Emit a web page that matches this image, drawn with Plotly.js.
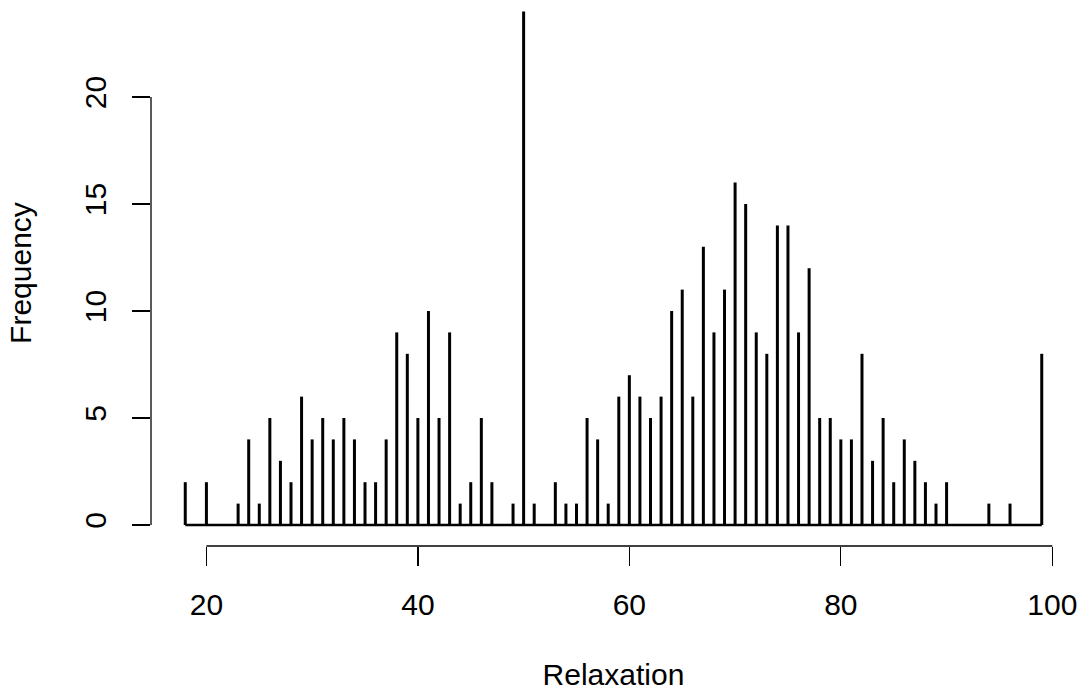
<!DOCTYPE html>
<html>
<head>
<meta charset="utf-8">
<script src="https://cdn.plot.ly/plotly-3.0.1.min.js"></script>
<style>html,body{margin:0;padding:0;background:#fff;}#chart{width:1082px;height:691px;}</style>
</head>
<body>
<div id="chart"></div>
<script>
// Relaxation scores and their frequencies
var relaxation = [18,20,23,24,25,26,27,28,29,30,31,32,33,34,35,36,37,38,39,40,41,42,43,44,45,46,47,49,50,51,53,54,55,56,57,58,59,60,61,62,63,64,65,66,67,68,69,70,71,72,73,74,75,76,77,78,79,80,81,82,83,84,85,86,87,88,89,90,94,96,99];
var frequency  = [2,2,1,4,1,5,3,2,6,4,5,4,5,4,2,2,4,9,8,5,10,5,9,1,2,5,2,1,24,1,2,1,1,5,4,1,6,7,6,5,6,10,11,6,13,9,11,16,15,9,8,14,14,9,12,5,5,4,4,8,3,5,2,4,3,2,1,2,1,1,8];
var xTicks = [20,40,60,80,100];
var yTicks = [0,5,10,15,20];

var hx = [], hy = [];
for (var i = 0; i < relaxation.length; i++) {
  hx.push(relaxation[i], relaxation[i], null);
  hy.push(0, frequency[i], null);
}
var xmin = Math.min.apply(null, relaxation), xmax = Math.max.apply(null, relaxation);

var font = {family: "Liberation Sans, Arial, sans-serif", size: 30, color: "#000"};

var traces = [
  {x: [xmin, xmax], y: [0, 0], mode: "lines", line: {color: "#000", width: 2.5}, hoverinfo: "skip", showlegend: false},
  {x: hx, y: hy, mode: "lines", line: {color: "#000", width: 3}, connectgaps: false, showlegend: false}
];

var layout = {
  width: 1082, height: 691,
  margin: {l: 151, r: 6, t: 0, b: 145},
  paper_bgcolor: "#fff", plot_bgcolor: "#fff",
  font: font,
  showlegend: false,
  xaxis: {
    range: [14.76, 102.24], tickvals: xTicks, ticktext: xTicks.map(String),
    ticks: "outside", ticklen: 19, tickwidth: 1.3, tickcolor: "#000",
    showline: false, showgrid: false, zeroline: false,
    tickfont: font, ticklabelstandoff: 13,
    title: {text: "Relaxation", font: font, standoff: 50},
    automargin: false
  },
  yaxis: {
    range: [-0.981, 24.533], tickvals: yTicks, ticktext: yTicks.map(String),
    ticks: "outside", ticklen: 18, tickwidth: 1.3, tickcolor: "#000",
    showline: false, showgrid: false, zeroline: false,
    tickfont: font, tickangle: -90, ticklabelstandoff: 14,
    title: {text: "Frequency", font: font, standoff: 38},
    automargin: false
  },
  shapes: [
    {type: "line", xref: "x", yref: "paper", x0: xTicks[0], x1: xTicks[xTicks.length-1], y0: 0, y1: 0, line: {color: "#000", width: 1.3}},
    {type: "line", xref: "paper", yref: "y", x0: 0, x1: 0, y0: yTicks[0], y1: yTicks[yTicks.length-1], line: {color: "#000", width: 1.3}}
  ]
};

Plotly.newPlot("chart", traces, layout, {displayModeBar: false, staticPlot: true});
</script>
</body>
</html>
